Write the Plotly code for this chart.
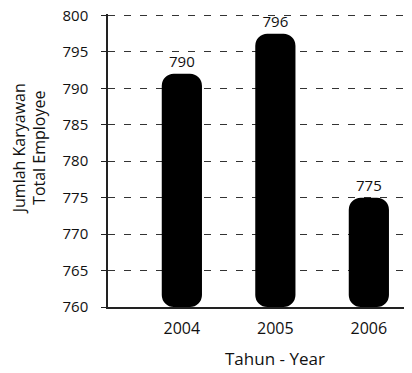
import plotly.graph_objects as go

# data
years = ["2004", "2005", "2006"]
value_labels = ["790", "796", "775"]
bar_tops = [792, 797.5, 775]   # drawn heights of the bars in the scan
y_min, y_max = 760, 800
y_ticks = [760, 765, 770, 775, 780, 785, 790, 795, 800]

FONT = "Open Sans"
INK = "#111"
RADIUS = 12
PAGE_PAD = 8  # default body margin of the html page
TOP_PAD = 0.2  # a little headroom so the 800 gridline gets drawn

x = list(range(len(years)))

fig = go.Figure()
fig.add_trace(go.Bar(
    x=x, y=[t - y_min for t in bar_tops], base=y_min,
    width=0.43, marker=dict(color="black", cornerradius=RADIUS, line_width=0),
    text=value_labels, textposition="outside", cliponaxis=False,
    textfont=dict(family=FONT, size=15, color=INK),
    hoverinfo="skip", showlegend=False,
))

fig.update_layout(
    width=412 - PAGE_PAD, height=373 - PAGE_PAD,
    margin=dict(l=108 - PAGE_PAD, r=2, t=14 - PAGE_PAD, b=66),
    paper_bgcolor="white", plot_bgcolor="white",
    font=dict(family=FONT, size=15, color=INK),
    xaxis=dict(
        range=[-0.79, 2.44], tickvals=x, ticktext=years,
        showgrid=False, zeroline=False, automargin=False,
        showline=True, linecolor="#222", linewidth=1.5,
        ticks="", tickfont=dict(size=16), ticklabelstandoff=6,
    ),
    yaxis=dict(
        range=[y_min, y_max + TOP_PAD], tickvals=y_ticks, automargin=False,
        showgrid=True, gridcolor="#333", griddash="7px,9px", gridwidth=1,
        zeroline=False,
        showline=True, linecolor="#222", linewidth=1.5,
        ticks="outside", ticklen=5, tickcolor="#222",
        tickfont=dict(size=15), ticklabelstandoff=10,
        ticklabeloverflow="allow",
    ),
    annotations=[
        dict(text="Tahun - Year", x=1, xref="x", y=-0.175, yref="paper",
             xanchor="center", yanchor="middle", showarrow=False,
             font=dict(size=17)),
        dict(text="Jumlah Karyawan<br>Total Employee", textangle=-90,
             x=-0.26, xref="paper", y=0.54, yref="paper",
             xanchor="center", yanchor="middle", showarrow=False,
             font=dict(size=16)),
    ],
)

fig.write_html("out.html")
